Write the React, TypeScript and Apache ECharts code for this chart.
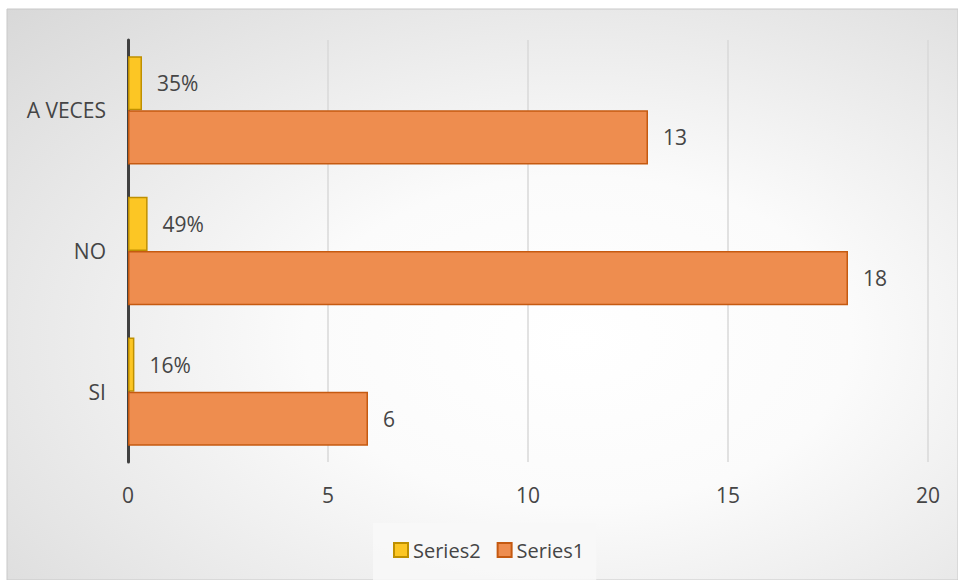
import React, { useEffect, useRef } from "react";
import * as echarts from "echarts";

const categories = ["SI", "NO", "A VECES"];
const series1Values = [6, 18, 13];
const series2Values = [0.16, 0.49, 0.35];
const xTicks = [0, 5, 10, 15, 20];

const FONT = "'Open Sans', sans-serif";
const TEXT = "#454545";

export default function App() {
  const ref = useRef<HTMLDivElement>(null);
  useEffect(() => {
    document.body.style.margin = "0";
    if (!ref.current) return;
    const chart = echarts.init(ref.current, null, { renderer: "svg" });
    chart.setOption({
      animation: false,
      graphic: [
        {
          type: "rect",
          z: -10,
          zlevel: 0,
          silent: true,
          shape: { x: 7, y: 9, width: 951, height: 571 },
          style: {
            fill: new echarts.graphic.RadialGradient(0.6, 0.58, 1.15, [
              { offset: 0, color: "#ffffff" },
              { offset: 0.25, color: "#fbfbfb" },
              { offset: 1, color: "#c4c4c4" },
            ]),
            stroke: "#c8c8c8",
            lineWidth: 1,
          },
        },
      ],
      grid: { left: 128, right: 30, top: 40, bottom: 118, containLabel: false },
      legend: {
        data: ["Series2", "Series1"],
        left: 373,
        top: 523,
        padding: [17, 12, 20, 20],
        backgroundColor: "rgba(248,248,248,0.85)",
        itemWidth: 14,
        itemHeight: 14,
        itemGap: 16,
        icon: "rect",
        textStyle: { fontFamily: FONT, fontSize: 20, color: TEXT },
      },
      xAxis: {
        type: "value",
        min: xTicks[0],
        max: xTicks[xTicks.length - 1],
        interval: 5,
        axisLine: { show: false },
        axisTick: { show: false },
        axisLabel: { fontFamily: FONT, fontSize: 21, color: TEXT, margin: 22 },
        splitLine: { lineStyle: { color: "#d9d9d9", width: 1.5 } },
      },
      yAxis: {
        type: "category",
        data: categories,
        axisLine: { show: true, lineStyle: { color: "#404040", width: 3 } },
        axisTick: { show: false },
        axisLabel: { fontFamily: FONT, fontSize: 21, color: TEXT, margin: 22 },
      },
      series: [
        {
          name: "Series2",
          type: "bar",
          data: series2Values,
          barGap: "0%",
          barCategoryGap: "23%",
          itemStyle: { color: "#fcc624", borderColor: "#bf9000", borderWidth: 1.5 },
          label: {
            show: true,
            position: "right",
            distance: 15,
            fontFamily: FONT,
            fontSize: 21,
            color: TEXT,
            formatter: (p: any) => Math.round(p.value * 100) + "%",
          },
        },
        {
          name: "Series1",
          type: "bar",
          data: series1Values,
          barGap: "0%",
          barCategoryGap: "23%",
          itemStyle: { color: "#ee8d4f", borderColor: "#c55a11", borderWidth: 1.5 },
          label: {
            show: true,
            position: "right",
            distance: 15,
            fontFamily: FONT,
            fontSize: 21,
            color: TEXT,
          },
        },
      ],
    });
    return () => chart.dispose();
  }, []);
  return <div ref={ref} style={{ width: 958, height: 580 }} />;
}
